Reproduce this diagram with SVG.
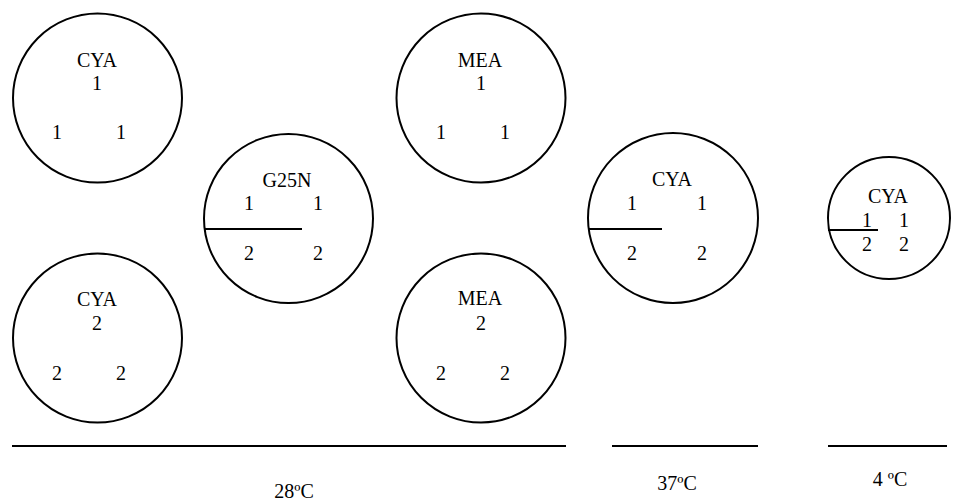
<svg xmlns="http://www.w3.org/2000/svg" width="960" height="501" viewBox="0 0 960 501">
<style>
.plate{fill:none;stroke:#000;stroke-width:2}
.ln{stroke:#000;stroke-width:2}
text{font-size:20px;fill:#000;text-anchor:middle}
</style>
<rect width="960" height="501" fill="#fff"/>
<g font-family="'Liberation Serif', 'Times New Roman', 'DejaVu Serif', serif">
<g id="cya-top">
<circle class="plate" cx="97.5" cy="98" r="84.5"/>
<text x="97" y="67">CYA</text>
<text x="97" y="90">1</text>
<text x="57" y="139">1</text>
<text x="121" y="139">1</text>
</g>
<g id="cya-bottom">
<circle class="plate" cx="97.5" cy="338" r="84.5"/>
<text x="97" y="306">CYA</text>
<text x="97" y="330">2</text>
<text x="57" y="380">2</text>
<text x="121" y="380">2</text>
</g>
<g id="g25n">
<circle class="plate" cx="288.5" cy="218.5" r="84.5"/>
<text x="287" y="187">G25N</text>
<text x="249" y="210">1</text>
<text x="318" y="210">1</text>
<text x="249" y="260">2</text>
<text x="318" y="260">2</text>
<line class="ln" x1="204" y1="229" x2="302" y2="229"/>
</g>
<g id="mea-top">
<circle class="plate" cx="481" cy="98" r="84.5"/>
<text x="480" y="67">MEA</text>
<text x="481" y="90">1</text>
<text x="441" y="139">1</text>
<text x="505" y="139">1</text>
</g>
<g id="mea-bottom">
<circle class="plate" cx="481" cy="338" r="84.5"/>
<text x="480" y="305">MEA</text>
<text x="481" y="330">2</text>
<text x="441" y="380">2</text>
<text x="505" y="380">2</text>
</g>
<g id="cya-37">
<circle class="plate" cx="673" cy="218" r="85"/>
<text x="672" y="186">CYA</text>
<text x="632" y="210">1</text>
<text x="702" y="210">1</text>
<text x="632" y="260">2</text>
<text x="702" y="260">2</text>
<line class="ln" x1="588" y1="229" x2="662" y2="229"/>
</g>
<g id="cya-4">
<circle class="plate" cx="889" cy="218" r="61"/>
<text x="888" y="203">CYA</text>
<text x="867" y="227">1</text>
<text x="904" y="227">1</text>
<text x="867" y="251">2</text>
<text x="904" y="251">2</text>
<line class="ln" x1="828" y1="230" x2="878" y2="230"/>
</g>
<g id="temperatures">
<line class="ln" x1="12" y1="446" x2="566" y2="446"/>
<line class="ln" x1="612" y1="446" x2="758" y2="446"/>
<line class="ln" x1="828" y1="446" x2="947" y2="446"/>
<text x="294" y="498">28ºC</text>
<text x="677" y="490">37ºC</text>
<text x="890" y="486">4 ºC</text>
</g>
</g>
</svg>
